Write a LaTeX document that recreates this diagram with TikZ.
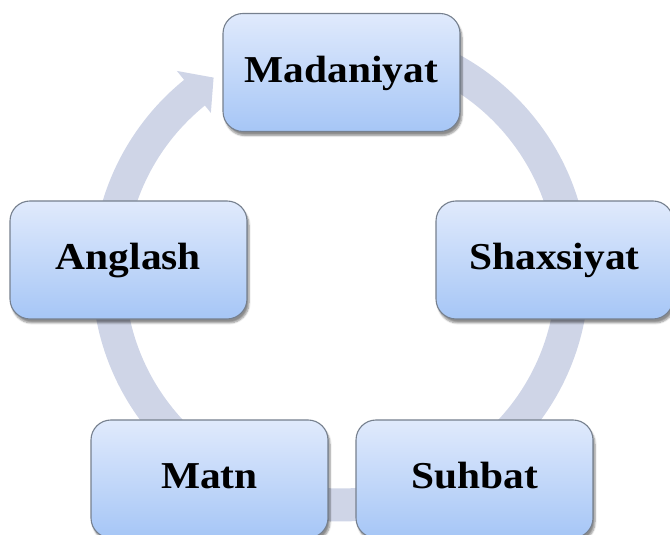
\documentclass[tikz,border=0pt]{standalone}
\usepackage{fontspec}
\setmainfont{Liberation Serif}
\usepackage{graphicx}
\usetikzlibrary{shadows.blur}
\definecolor{ringc}{RGB}{207,213,231}
\definecolor{boxtop}{RGB}{224,234,252}
\definecolor{boxbot}{RGB}{166,198,246}
\definecolor{boxline}{RGB}{118,128,142}
\tikzset{
 cyclebox/.style={rectangle, rounded corners=20pt, minimum width=237pt, minimum height=118pt,
   draw=boxline, line width=1.1pt, top color=boxtop, bottom color=boxbot,
   blur shadow={shadow xshift=2pt, shadow yshift=-4pt, shadow blur steps=6, shadow blur extra rounding=2pt, shadow opacity=45},
   text height=28pt, text depth=8pt, inner sep=0pt, font=\bfseries\fontsize{38}{40}\selectfont},
 ringstyle/.style={fill=ringc}
}
\newcommand{\wtxt}[1]{\scalebox{1.09}[1]{#1}}
\begin{document}
\begin{tikzpicture}[x=1pt,y=1pt]
\useasboundingbox (0,0) rectangle (670,535);
\clip (0,0) rectangle (670,535);
\begin{scope}[shift={(340.5,262)}]
\fill[ringstyle] (90:248.5) arc[start angle=90,end angle=-231,radius=248.5] -- (-231:260) -- (-237:233) -- (-231:206) -- (-231:215.5) arc[start angle=-231,end angle=90,radius=215.5] -- cycle;
\end{scope}
\node[cyclebox] (mad) at (341.5,462.5) {\wtxt{Madaniyat}};
\node[cyclebox] (ang) at (128.5,275) {\wtxt{Anglash}};
\node[cyclebox] (sha) at (554.5,275) {\wtxt{Shaxsiyat}};
\node[cyclebox] (mat) at (209.5,56) {\wtxt{Matn}};
\node[cyclebox] (suh) at (474.5,56) {\wtxt{Suhbat}};
\end{tikzpicture}
\end{document}
